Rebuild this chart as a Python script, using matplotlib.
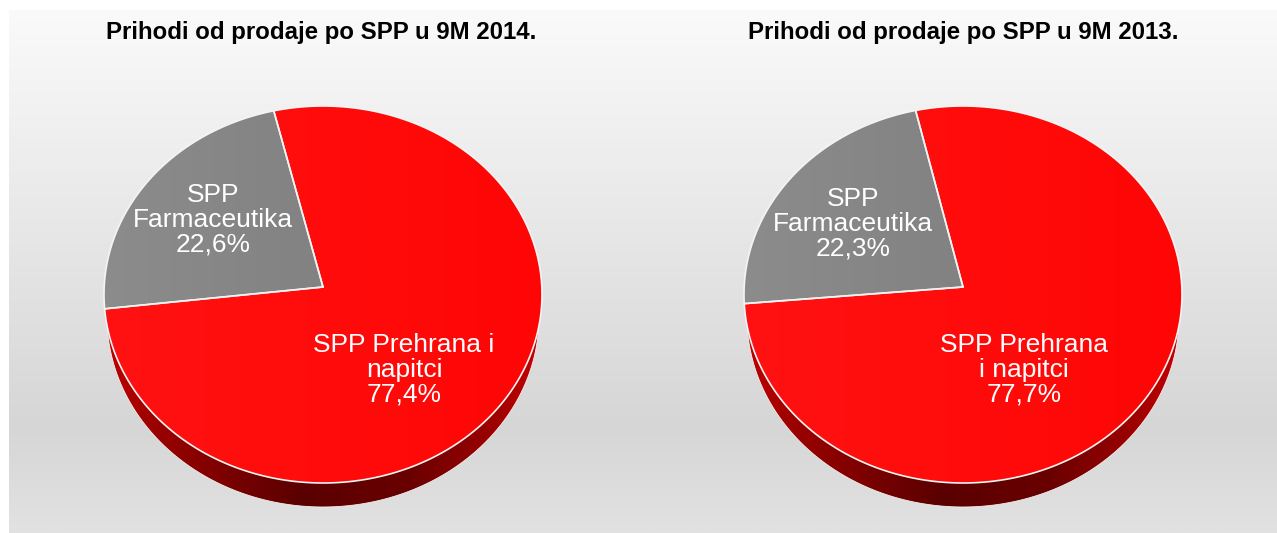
import numpy as np
import matplotlib
matplotlib.use('Agg')
import matplotlib.pyplot as plt
from matplotlib.colors import LinearSegmentedColormap
from matplotlib.patches import Polygon

plt.rcParams['font.family'] = ['Liberation Sans', 'DejaVu Sans']

titles = ['Prihodi od prodaje po SPP u 9M 2014.', 'Prihodi od prodaje po SPP u 9M 2013.']
food_values = [77.4, 77.7]
pharma_values = [22.6, 22.3]
food_labels = ['SPP Prehrana i\nnapitci\n77,4%', 'SPP Prehrana\ni napitci\n77,7%']
pharma_labels = ['SPP\nFarmaceutika\n22,6%', 'SPP\nFarmaceutika\n22,3%']

W, H = 1277, 533
fig = plt.figure(figsize=(W / 100, H / 100), dpi=100, facecolor='white')
ax = fig.add_axes([0, 0, 1, 1])
ax.set_xlim(0, W)
ax.set_ylim(H, 0)
ax.axis('off')

# background gradient, light at top, darkest low down
bg = LinearSegmentedColormap.from_list('bg', [(0, '#fafafa'), (0.8, '#d6d6d6'), (1, '#e2e2e2')])
ax.imshow(np.linspace(0, 1, 256).reshape(-1, 1), cmap=bg, aspect='auto',
          extent=(9, W, H, 10), zorder=0)

side = LinearSegmentedColormap.from_list('side', [(0, '#c00000'), (0.12, '#9a0000'), (0.45, '#5a0000'),
                                                  (0.7, '#6a0000'), (0.9, '#a00000'), (1, '#c80000')])
red = LinearSegmentedColormap.from_list('red', ['#ff1212', '#ff0505'])
grey = LinearSegmentedColormap.from_list('grey', ['#8c8c8c', '#828282'])

rx, ry = 219, 188.5
cy = 294.5
vy = 287
rx2, ry2, cy2 = 216, 190, 317


def arc(cx, a0, a1):
    # angles are clockwise from 12 o'clock, in degrees
    t = np.radians(np.linspace(a0, a1, 200))
    return np.column_stack([cx + rx * np.sin(t), cy - ry * np.cos(t)])


def filled(pts, cmap, z):
    x0, x1 = pts[:, 0].min(), pts[:, 0].max()
    y0, y1 = pts[:, 1].min(), pts[:, 1].max()
    im = ax.imshow(np.linspace(0, 1, 256).reshape(1, -1), cmap=cmap, aspect='auto',
                   extent=(x0, x1, y1, y0), zorder=z)
    im.set_clip_path(Polygon(pts, closed=True, transform=ax.transData))


def draw_pie(i, cx, start):
    # side of the disc
    t = np.radians(np.linspace(90, 270, 300))
    low = np.column_stack([cx + rx2 * np.sin(t), cy2 - ry2 * np.cos(t)])
    top = arc(cx, 270, 90)
    band = np.vstack([low, top])
    filled(band, side, 2)
    ax.plot(low[:, 0], low[:, 1], color='#f2f2f2', lw=0.6, zorder=3)

    end = start + food_values[i] * 3.6
    red_arc = arc(cx, start, end)
    red_pts = np.vstack([[cx, vy], red_arc])
    filled(red_pts, red, 4)
    end2 = end + pharma_values[i] * 3.6
    grey_arc = arc(cx, end, end2)
    grey_pts = np.vstack([[cx, vy], grey_arc])
    filled(grey_pts, grey, 4)
    for pts in (red_pts, grey_pts):
        ax.add_patch(Polygon(pts, closed=True, fill=False, ec='#f4f4f4', lw=1.2, joinstyle='miter', zorder=5))


draw_pie(0, 323, -13)
draw_pie(1, 963, -12.5)

ax.set_xlim(0, W)
ax.set_ylim(H, 0)

ax.text(321, 33, titles[0], ha='center', va='center', fontsize=17.3, fontweight='bold', color='black', zorder=6)
ax.text(963, 33, titles[1], ha='center', va='center', fontsize=17.3, fontweight='bold', color='black', zorder=6)

ax.text(404, 370, food_labels[0], ha='center', va='center', fontsize=19, color='white', linespacing=1.05, zorder=6)
ax.text(1024, 370, food_labels[1], ha='center', va='center', fontsize=19, color='white', linespacing=1.05, zorder=6)
ax.text(213, 220, pharma_labels[0], ha='center', va='center', fontsize=19, color='white', linespacing=1.05, zorder=6)
ax.text(853, 224, pharma_labels[1], ha='center', va='center', fontsize=19, color='white', linespacing=1.05, zorder=6)

fig.savefig('out.png', dpi=100)
